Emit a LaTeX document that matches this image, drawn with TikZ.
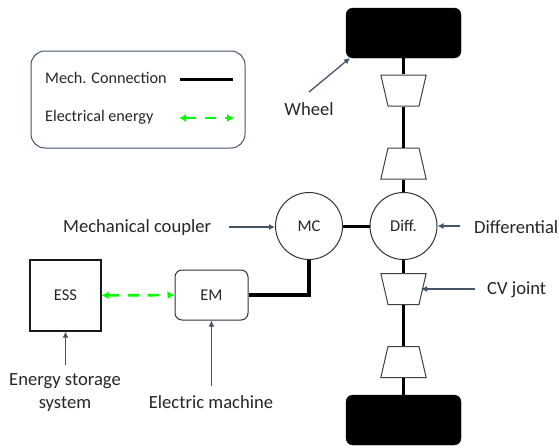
\documentclass[tikz,border=0pt]{standalone}
\usepackage{fontspec}
\setmainfont{Carlito}
\usetikzlibrary{shapes.geometric,arrows.meta}
\definecolor{labelarrow}{HTML}{44546A}
\definecolor{labeltext}{HTML}{262626}
\definecolor{elecgreen}{HTML}{00FF00}
\tikzset{
  every node/.style = {text = labeltext},
  tag/.style = {font = \fontsize{18.6}{23}\selectfont, inner sep = 0pt, align = center},
  small tag/.style = {font = \fontsize{16.2}{19}\selectfont, inner sep = 0pt},
  wheelbox/.style = {draw, fill = black, rounded corners = 7pt, minimum width = 115pt, minimum height = 50pt, inner sep = 0pt},
  hub/.style = {circle, draw = black!80, line width = 1pt, minimum size = 67pt, inner sep = 0pt, font = \fontsize{16.5}{19}\selectfont},
  cvjoint/.style = {trapezium, draw = black!75, line width = 1pt, fill = white,
    trapezium angle = 77, minimum width = 41pt, minimum height = 31pt, inner sep = 1pt},
  mech/.style = {line width = 2.4pt, black},
  elec/.style = {line width = 2.6pt, elecgreen, dash pattern = on 11pt off 9pt, {Latex[length = 7pt, width = 8pt]}-{Latex[length = 7pt, width = 8pt]}},
  pointer/.style = {line width = 1.3pt, labelarrow, -{Latex[length = 6pt, width = 6pt]}}
}
\begin{document}
\begin{tikzpicture}[x = 1pt, y = -1pt]
\useasboundingbox (0,0) rectangle (559,447);

% legend
\node[draw = labelarrow, line width = 1pt, rounded corners = 14pt, minimum width = 214pt, minimum height = 97pt] (legend) at (138,99.5) {};
\node[small tag, anchor = west] (mechtext) at (45,77.5) {Mech. Connection};
\node[small tag, anchor = west] (electext) at (45,117.5) {Electrical energy};
\coordinate (mechA) at (180,79);
\coordinate (mechB) at (233,79);
\coordinate (elecA) at (179,118);
\coordinate (elecB) at (234,118);
\draw[mech, line width = 3pt] (mechA) -- (mechB);
\draw[elec] (elecA) -- (elecB);

% driveline
\node[wheelbox] (wheeltop) at (403.5,33) {};
\node[wheelbox] (wheelbot) at (403.5,420) {};
\node[cvjoint, shape border rotate = 180] (cvA) at (403.5,90.5) {};
\node[cvjoint] (cvB) at (403.5,163.5) {};
\node[cvjoint, shape border rotate = 180] (cvC) at (403.5,289) {};
\node[cvjoint] (cvD) at (403.5,362) {};
\node[hub] (diff) at (403.5,226) {Diff.};
\node[hub] (mc) at (309,226) {MC};
\node[draw = black!80, line width = 1pt, rounded corners = 7pt, minimum width = 73pt, minimum height = 50pt,
  font = \fontsize{16.5}{19}\selectfont] (em) at (211.5,295) {EM};
\node[draw = black!90, line width = 1.2pt, minimum width = 71pt, minimum height = 71pt,
  font = \fontsize{16.5}{19}\selectfont] (ess) at (65.5,295.5) {ESS};

\draw[mech] (wheeltop) -- (cvA);
\draw[mech] (cvA) -- (cvB);
\draw[mech] (cvB) -- (diff);
\draw[mech] (diff) -- (cvC);
\draw[mech] (cvC) -- (cvD);
\draw[mech] (cvD) -- (wheelbot);
\draw[mech, line width = 3pt] (mc) -- (diff);
\draw[mech, line width = 3.2pt] (em.east) -| (mc.south);
\draw[elec] (ess) -- (em);

% labels
\node[tag] (wheeltext) at (309,109) {Wheel};
\node[tag, anchor = west] (mctext) at (63,227.5) {Mechanical coupler};
\node[tag, anchor = west] (difftext) at (474,227) {Differential};
\node[tag, anchor = west] (cvtext) at (487,289.5) {CV joint};
\node[tag] (esstext) at (65,392.5) {Energy storage\\system};
\node[tag] (emtext) at (211,402) {Electric machine};

\coordinate (wheeltail) at (309,92);
\coordinate (wheeltip) at (350,58);
\coordinate (mctail) at (229,227);
\coordinate (difftail) at (460,226);
\coordinate (cvtail) at (475,289);
\coordinate (esstail) at (65.5,365);
\coordinate (emtail) at (211.5,386);
\draw[pointer] (wheeltail) -- (wheeltip);
\draw[pointer] (mctail) -- (mc.west |- mctail);
\draw[pointer] (difftail) -- (diff.east);
\draw[pointer] (cvtail) -- (421,289);
\draw[pointer] (esstail) -- (ess.south);
\draw[pointer] (emtail) -- (em.south);
\end{tikzpicture}
\end{document}
